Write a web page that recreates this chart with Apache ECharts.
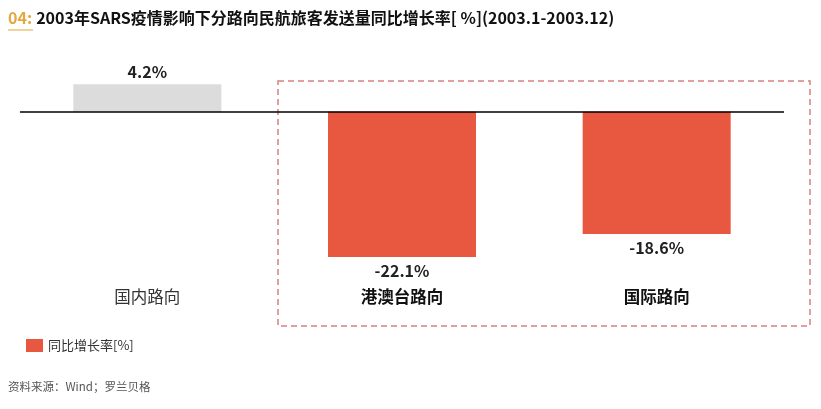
<!DOCTYPE html>
<html>
<head>
<meta charset="utf-8">
<script src="https://cdn.jsdelivr.net/npm/echarts@6/dist/echarts.min.js"></script>
<style>
html,body{margin:0;padding:0;background:#fff;}
#chart{width:821px;height:409px;}
</style>
</head>
<body>
<div id="chart"></div>
<script>
const categories = ['国内路向', '港澳台路向', '国际路向'];
const growthValues = [4.2, -22.1, -18.6];
const seriesName = '同比增长率[%]';
const titlePrefix = '04:';
const titleText = '2003年SARS疫情影响下分路向民航旅客发送量同比增长率[ %](2003.1-2003.12)';
const sourceText = '资料来源：Wind；罗兰贝格';

const FONT = '"Noto Sans CJK SC", "Noto Sans", sans-serif';
const chart = echarts.init(document.getElementById('chart'));

const barData = growthValues.map((v, i) => ({
  value: v,
  itemStyle: { color: i === 0 ? '#dcdcdc' : '#e8573f' },
  label: { position: v >= 0 ? 'top' : 'bottom', distance: v >= 0 ? 4 : 6 }
}));

chart.setOption({
  animation: false,
  textStyle: { fontFamily: FONT },
  title: {
    left: 8, top: 9, padding: 0,
    text: '{a|' + titlePrefix + '} {b|' + titleText + '}',
    textStyle: {
      rich: {
        a: { fontFamily: FONT, fontSize: 16, fontWeight: 'bold', color: '#e3a73a' },
        b: { fontFamily: FONT, fontSize: 16, fontWeight: 'bold', color: '#111' }
      }
    }
  },
  legend: {
    left: 26, top: 339, padding: 0,
    itemWidth: 17, itemHeight: 13, itemGap: 8,
    icon: 'rect',
    textStyle: { fontFamily: FONT, fontSize: 13, color: '#333' },
    data: [seriesName]
  },
  grid: { left: 20, right: 37, top: 79, bottom: 133 },
  xAxis: {
    type: 'category',
    data: categories.map((c, i) => ({
      value: c,
      textStyle: { fontWeight: i === 0 ? 'normal' : 'bold', color: i === 0 ? '#333' : '#111' }
    })),
    axisLine: { show: false, onZero: false },
    axisTick: { show: false },
    axisLabel: { fontFamily: FONT, fontSize: 16.5, margin: 12 }
  },
  yAxis: {
    type: 'value', min: -25, max: 5, interval: 5,
    show: false,
    splitLine: { show: false }
  },
  series: [{
    name: seriesName,
    type: 'bar',
    barWidth: 148,
    itemStyle: { color: '#e8573f' },
    label: {
      show: true,
      fontFamily: FONT, fontSize: 16, fontWeight: 'bold', color: '#222',
      formatter: p => p.value + '%'
    },
    data: barData,
    markLine: {
      silent: true,
      symbol: 'none',
      label: { show: false },
      lineStyle: { color: '#000', width: 1.5, type: 'solid' },
      data: [{ yAxis: 0 }]
    }
  }],
  graphic: [
    {
      type: 'rect',
      shape: { x: 278, y: 81, width: 532, height: 245 },
      style: { fill: 'none', stroke: '#d98080', lineWidth: 1.5, lineDash: [6, 4] }
    },
    {
      type: 'line',
      shape: { x1: 8, y1: 30, x2: 33, y2: 30 },
      style: { stroke: '#e3a73a', lineWidth: 1 }
    },
    {
      type: 'text',
      left: 8, top: 381,
      style: { text: sourceText, font: '11.5px ' + FONT, fill: '#555' }
    }
  ]
});
</script>
</body>
</html>
